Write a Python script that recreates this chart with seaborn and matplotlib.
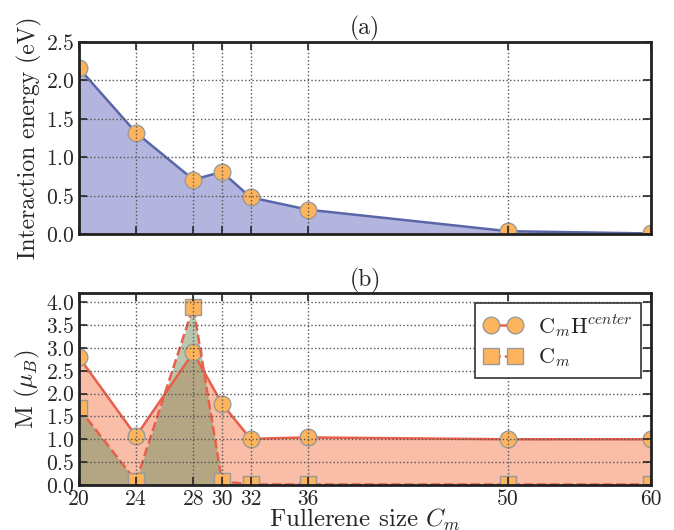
import numpy as np
import pandas as pd
import matplotlib
matplotlib.use("Agg")
import matplotlib.pyplot as plt
import seaborn as sns

# fullerene sizes and values
sizes = [20, 24, 28, 30, 32, 36, 50, 60]
energy = [2.16, 1.32, 0.71, 0.81, 0.48, 0.32, 0.04, 0.01]
moment_h = [2.80, 1.07, 2.90, 1.78, 1.01, 1.04, 1.00, 1.00]
moment_c = [1.68, 0.08, 3.90, 0.08, 0.01, 0.01, 0.01, 0.01]

sns.set_style("ticks")
plt.rcParams['font.family'] = ['cmr10', 'DejaVu Serif']
plt.rcParams['mathtext.fontset'] = 'cm'
plt.rcParams['axes.unicode_minus'] = False
plt.rcParams['axes.formatter.use_mathtext'] = True

marker_face = '#fdb45c'
marker_edge = '#9a9a9a'
red_line = '#e8604a'

fig = plt.figure(figsize=(6.74, 5.30), dpi=100)
ax1 = fig.add_axes([0.117, 0.558, 0.849, 0.363])
ax2 = fig.add_axes([0.117, 0.085, 0.849, 0.362])

# (a) interaction energy
ax1.fill_between(sizes, energy, 0, color='#b3b5de', lw=0, zorder=1)
sns.lineplot(x=sizes, y=energy, ax=ax1, color='#5a66aa', lw=1.8, zorder=2,
             marker='o', markersize=12, markerfacecolor=marker_face,
             markeredgecolor=marker_edge, markeredgewidth=1, alpha=1)
ax1.set_xlim(20, 60)
ax1.set_ylim(0, 2.5)
ax1.set_yticks([0, 0.5, 1.0, 1.5, 2.0, 2.5])
ax1.set_xticks(sizes)
ax1.set_xticklabels([])
ax1.set_ylabel('Interaction energy (eV)', fontsize=17, labelpad=3)
ax1.set_title('(a)', fontsize=17, pad=5)

# (b) magnetic moment
ax2.fill_between(sizes, moment_h, 0, color='#f9bda8', lw=0, zorder=1)
ax2.fill_between(sizes, moment_c, 0, color='#73915f', alpha=0.5, lw=0, zorder=1.5)
sns.lineplot(x=sizes, y=moment_h, ax=ax2, color=red_line, lw=1.8, zorder=2,
             marker='o', markersize=12, markerfacecolor=marker_face,
             markeredgecolor=marker_edge, markeredgewidth=1,
             label=r'C$_m$H$^{center}$')
sns.lineplot(x=sizes, y=moment_c, ax=ax2, color=red_line, lw=1.8, zorder=2,
             linestyle='--', marker='s', markersize=12,
             markerfacecolor=marker_face, markeredgecolor=marker_edge,
             markeredgewidth=1, label=r'C$_m$')
ax2.set_xlim(20, 60)
ax2.set_ylim(0, 4.2)
ax2.set_yticks(np.arange(0, 4.01, 0.5))
ax2.set_xticks(sizes)
ax2.set_xticklabels([str(s) for s in sizes])
ax2.set_xlabel(r'Fullerene size $C_m$', fontsize=18, labelpad=-1)
ax2.set_ylabel(r'M ($\mu_B$)', fontsize=18, labelpad=3)
ax2.set_title('(b)', fontsize=17, pad=5)
leg = ax2.legend(loc='upper right', numpoints=2, fontsize=16, fancybox=False,
                 framealpha=1, edgecolor='#333333', borderpad=0.4,
                 handlelength=1.7, handletextpad=0.7, labelspacing=0.35,
                 borderaxespad=0.45)
leg.get_frame().set_linewidth(1.2)

for ax in (ax1, ax2):
    ax.grid(True, linestyle=':', color='#555555', lw=1)
    ax.set_axisbelow(False)
    for sp in ax.spines.values():
        sp.set_visible(True)
        sp.set_linewidth(2)
        sp.set_color('#222222')
        sp.set_zorder(5)
    ax.tick_params(direction='in', top=True, right=True, length=6, width=1.2,
                   labelsize=15.5, pad=3)
    for gl in ax.get_xgridlines() + ax.get_ygridlines():
        gl.set_zorder(1.8)

fig.savefig('out.png', dpi=100)
